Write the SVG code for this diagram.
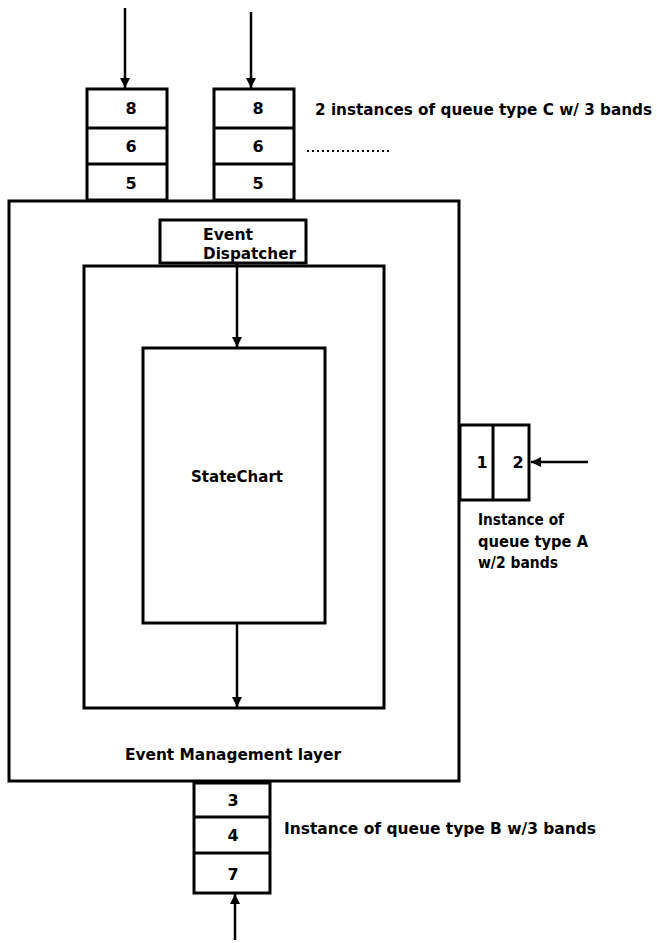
<svg xmlns="http://www.w3.org/2000/svg" width="657" height="943" viewBox="0 0 657 943">
<defs>
<marker id="ah" viewBox="0 0 10 16" refX="10" refY="8" markerWidth="10" markerHeight="16" markerUnits="userSpaceOnUse" orient="auto">
<path d="M0,3 L10,8 L0,13 z" fill="#000"/>
</marker>
<style>
.box{fill:#fff;stroke:#000;stroke-width:3}
.ln{stroke:#000;stroke-width:2.5;fill:none}
.t{font-family:"DejaVu Sans","Liberation Sans",sans-serif;font-weight:bold;font-size:15px;fill:#000}
.n{font-family:"DejaVu Sans","Liberation Sans",sans-serif;font-weight:bold;font-size:16px;fill:#000;text-anchor:middle}
.c{text-anchor:middle}
</style>
</defs>
<rect width="657" height="943" fill="#fff"/>
<g id="outer">
<rect class="box" x="9" y="201" width="450" height="580"/>
<text class="t c" x="233" y="760" textLength="216" lengthAdjust="spacingAndGlyphs">Event Management layer</text>
</g>
<g id="inner">
<rect class="box" x="84" y="266" width="300" height="442"/>
</g>
<g id="dispatcher">
<rect class="box" x="160" y="220" width="146" height="43"/>
<text class="t" x="203" y="240" textLength="50" lengthAdjust="spacingAndGlyphs">Event</text>
<text class="t" x="203" y="259" textLength="93" lengthAdjust="spacingAndGlyphs">Dispatcher</text>
</g>
<g id="statechart">
<rect class="box" x="143" y="348" width="182" height="275"/>
<text class="t c" x="237" y="482" textLength="92" lengthAdjust="spacingAndGlyphs">StateChart</text>
</g>
<g id="queueC1">
<rect class="box" x="87" y="89" width="80" height="111"/>
<line class="ln" x1="87" y1="128" x2="167" y2="128" style="stroke-width:3"/>
<line class="ln" x1="87" y1="164" x2="167" y2="164" style="stroke-width:3"/>
<text class="n" x="131" y="114">8</text>
<text class="n" x="131" y="152">6</text>
<text class="n" x="131" y="189">5</text>
</g>
<g id="queueC2">
<rect class="box" x="214" y="89" width="80" height="111"/>
<line class="ln" x1="214" y1="128" x2="294" y2="128" style="stroke-width:3"/>
<line class="ln" x1="214" y1="164" x2="294" y2="164" style="stroke-width:3"/>
<text class="n" x="258" y="114">8</text>
<text class="n" x="258" y="152">6</text>
<text class="n" x="258" y="189">5</text>
</g>
<g id="labelC">
<text class="t" x="315" y="115" textLength="337" lengthAdjust="spacingAndGlyphs">2 instances of queue type C w/ 3 bands</text>
<line x1="307" y1="151" x2="390" y2="151" stroke="#000" stroke-width="2" stroke-dasharray="2,3"/>
</g>
<g id="queueA">
<rect class="box" x="460" y="425" width="69" height="75"/>
<line class="ln" x1="493" y1="425" x2="493" y2="500" style="stroke-width:3"/>
<text class="n" x="482" y="468">1</text>
<text class="n" x="518" y="468">2</text>
<text class="t" x="478" y="525" textLength="86" lengthAdjust="spacingAndGlyphs">Instance of</text>
<text class="t" x="478" y="547" textLength="110" lengthAdjust="spacingAndGlyphs">queue type A</text>
<text class="t" x="478" y="568" textLength="80" lengthAdjust="spacingAndGlyphs">w/2 bands</text>
</g>
<g id="queueB">
<rect class="box" x="194" y="783" width="76" height="110"/>
<line class="ln" x1="194" y1="817" x2="270" y2="817" style="stroke-width:3"/>
<line class="ln" x1="194" y1="853" x2="270" y2="853" style="stroke-width:3"/>
<text class="n" x="233" y="806">3</text>
<text class="n" x="233" y="841">4</text>
<text class="n" x="233" y="880">7</text>
<text class="t" x="284" y="834" textLength="312" lengthAdjust="spacingAndGlyphs">Instance of queue type B w/3 bands</text>
</g>
<g id="connectors">
<line class="ln" x1="125" y1="8" x2="125" y2="88" marker-end="url(#ah)"/>
<line class="ln" x1="251" y1="12" x2="251" y2="88" marker-end="url(#ah)"/>
<line class="ln" x1="237" y1="263" x2="237" y2="347" marker-end="url(#ah)"/>
<line class="ln" x1="237" y1="623" x2="237" y2="707" marker-end="url(#ah)"/>
<line class="ln" x1="588" y1="462" x2="531" y2="462" marker-end="url(#ah)"/>
<line class="ln" x1="235" y1="940" x2="235" y2="894" marker-end="url(#ah)"/>
</g>
</svg>
